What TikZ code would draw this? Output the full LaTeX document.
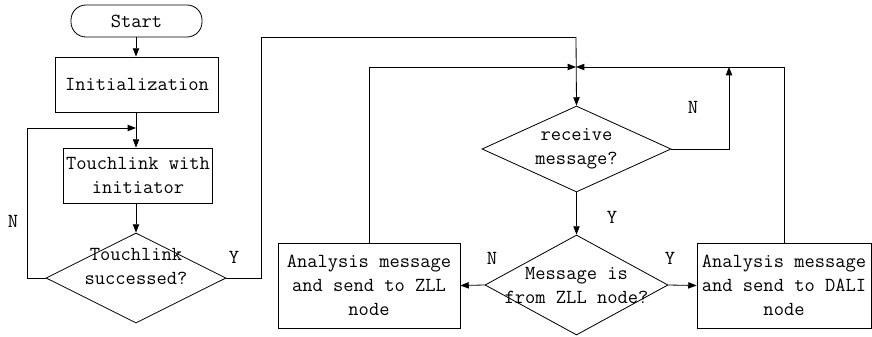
\documentclass[tikz,border=0pt]{standalone}
\usepackage{tikz}
\usetikzlibrary{arrows.meta,calc,shapes.geometric}

\begin{document}
\begin{tikzpicture}[
      x=0.03cm, y=-0.03cm,
      font=\ttfamily\fontsize{17}{20.5}\selectfont,
      line width=0.7pt,
      arr/.style={-{Triangle[length=2.5mm,width=1.9mm]}},
      procbox/.style={draw, align=center, inner sep=2pt},
      termbox/.style={draw, rounded corners=0.45cm, minimum width=3.93cm, minimum height=0.96cm},
      decision/.style={draw, diamond, inner sep=0pt},
      dtext/.style={align=center, inner sep=0pt},
      yn/.style={inner sep=0pt}
    ]
      \useasboundingbox (0,0) rectangle (872,336);

      % left column
      \node[termbox] (start) at (136.5,21) {Start};
      \node[procbox, minimum width=4.89cm, minimum height=1.65cm] (init) at (137,84.5) {Initialization};
      \node[procbox, minimum width=4.44cm, minimum height=1.65cm] (touch) at (138,175.5) {Touchlink with\\initiator};
      \node[decision, minimum width=5.4cm, minimum height=2.7cm] (tdec) at (136,278) {};
      \node[dtext] (tdectxt) at ($(tdec)+(0,-12)$) {Touchlink\\successed?};

      % right part
      \node[decision, minimum width=5.67cm, minimum height=2.58cm] (rdec) at (576.5,149) {};
      \node[dtext] (rdectxt) at (rdec) {receive\\message?};
      \node[decision, minimum width=5.49cm, minimum height=3.0cm] (mdec) at (576.5,285) {};
      \node[dtext] (mdectxt) at (mdec) {Message is\\from ZLL node?};
      \node[procbox, minimum width=5.46cm, minimum height=2.55cm] (zll) at (369,285.5) {Analysis message\\and send to ZLL\\node};
      \node[procbox, minimum width=5.22cm, minimum height=2.55cm] (dali) at (784,285.5) {Analysis message\\and send to DALI\\node};

      \coordinate (loopin) at (136,128);
      \coordinate (topin) at (576,37);
      \coordinate (merge) at (576,67);
      \coordinate (nturn) at (729,67);

      % connectors
      \draw[arr] (start.south -| loopin) -- (init.north -| loopin);
      \draw[arr] (init.south -| loopin) -- (touch.north -| loopin);
      \draw[arr] (touch.south -| tdec) -- (tdec.north);
      \draw[arr] (tdec.west) -- ++(-18,0) |- (loopin);
      \draw (tdec.east) -- ++(35,0) |- (topin);
      \draw[arr] (topin) -- (rdec.north);
      \draw[arr] (zll.north) |- (merge);
      \draw[arr] (dali.north) |- (merge);
      \draw[arr] (rdec.east) -| (nturn);
      \draw[arr] (rdec) -- (mdec);
      \draw[arr] (mdec.west) -- (zll.east);
      \draw[arr] (mdec.east) -- (dali.west);

      % branch labels
      \node[yn] (n1) at (13,221) {N};
      \node[yn] (y1) at (234,257) {Y};
      \node[yn] (n2) at (693,107) {N};
      \node[yn] (y2) at (612,217) {Y};
      \node[yn] (n3) at (492,258) {N};
      \node[yn] (y3) at (670,258) {Y};
    \end{tikzpicture}
\end{document}
